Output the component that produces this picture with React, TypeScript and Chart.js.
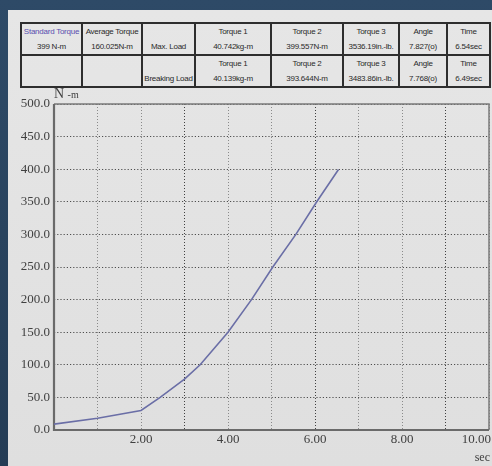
import React, { useEffect, useRef } from "react";
import { Chart, registerables } from "chart.js";

Chart.register(...registerables);

// ---- data ----
const timeSec = [0, 1, 2, 2.44, 3, 3.36, 4, 4.54, 5.03, 5.56, 6.04, 6.54];
const torqueNm = [9, 18, 30, 50, 78, 100, 150, 200, 250, 300, 350, 399.6];
const xTickLabels = ["2.00", "4.00", "6.00", "8.00", "10.00"];
const xTickValues = [2, 4, 6, 8, 10];
const yUnitMain = "N";
const yUnitSub = "-m";
const xUnit = "sec";

const row1Top = ["Standard Torque", "Average Torque", "", "Torque 1", "Torque 2", "Torque 3", "Angle", "Time"];
const row1Bottom = ["399 N-m", "160.025N-m", "Max. Load", "40.742kg-m", "399.557N-m", "3536.19in.-lb.", "7.827(o)", "6.54sec"];
const row2Top = ["", "", "", "Torque 1", "Torque 2", "Torque 3", "Angle", "Time"];
const row2Bottom = ["", "", "Breaking Load", "40.139kg-m", "393.644N-m", "3483.86in.-lb.", "7.768(o)", "6.49sec"];

// ---- layout ----
const colEdges = [21, 82, 142, 195, 271, 343, 399, 447, 490];
const rowEdges = [23, 55, 87];

function Table() {
  const lines: React.ReactNode[] = [];
  const left = colEdges[0];
  const right = colEdges[colEdges.length - 1];
  const top = rowEdges[0];
  const bottom = rowEdges[rowEdges.length - 1];
  rowEdges.forEach((y, i) =>
    lines.push(
      <div key={"h" + i} style={{ position: "absolute", left: left - 1, top: y - 1, width: right - left + 2, height: 2, background: "#2e2e2e" }} />
    )
  );
  colEdges.forEach((x, i) =>
    lines.push(
      <div key={"v" + i} style={{ position: "absolute", left: x - 1, top: top - 1, width: 2, height: bottom - top + 2, background: "#2e2e2e" }} />
    )
  );
  const texts: React.ReactNode[] = [];
  const rows = [
    [row1Top, row1Bottom],
    [row2Top, row2Bottom],
  ];
  rows.forEach((pair, r) => {
    pair.forEach((arr, l) => {
      arr.forEach((t, c) => {
        if (!t) return;
        const cx0 = colEdges[c];
        const cx1 = colEdges[c + 1];
        const cy = rowEdges[r] + (l === 0 ? 9 : 24);
        texts.push(
          <div
            key={`t${r}${l}${c}`}
            style={{
              position: "absolute",
              left: cx0,
              width: cx1 - cx0,
              top: cy - 6,
              height: 12,
              lineHeight: "12px",
              textAlign: "center",
              fontFamily: '"Liberation Sans", Arial, sans-serif',
              fontSize: 8,
              letterSpacing: -0.25,
              whiteSpace: "nowrap",
              color: r === 0 && l === 0 && c === 0 ? "#5a4fb0" : "#2a2a2a",
            }}
          >
            {t}
          </div>
        );
      });
    });
  });
  return (
    <>
      {lines}
      {texts}
    </>
  );
}

export default function App() {
  const canvasRef = useRef<HTMLCanvasElement | null>(null);

  useEffect(() => {
    if (!canvasRef.current) return;
    const serif = '"Liberation Serif", "DejaVu Serif", serif';
    const framePlugin = {
      id: "frame",
      beforeDatasetsDraw(chart: any) {
        const { ctx, chartArea: a } = chart;
        ctx.save();
        ctx.strokeStyle = "#7a7a7a";
        ctx.lineWidth = 1.5;
        ctx.beginPath();
        ctx.moveTo(a.left, a.top);
        ctx.lineTo(a.right, a.top);
        ctx.lineTo(a.right, a.bottom);
        ctx.stroke();
        ctx.strokeStyle = "#6a6a6a";
        ctx.lineWidth = 2.2;
        ctx.beginPath();
        ctx.moveTo(a.left, a.top);
        ctx.lineTo(a.left, a.bottom);
        ctx.lineTo(a.right, a.bottom);
        ctx.stroke();
        ctx.restore();
      },
      afterDraw(chart: any) {
        const { ctx, chartArea: a } = chart;
        const xs = chart.scales.x;
        ctx.save();
        ctx.fillStyle = "#404040";
        ctx.font = `13px ${serif}`;
        ctx.textBaseline = "middle";
        xTickValues.forEach((v, i) => {
          const px = xs.getPixelForValue(v);
          if (i === xTickValues.length - 1) {
            ctx.textAlign = "right";
            ctx.fillText(xTickLabels[i], a.right + 2, 440);
          } else {
            ctx.textAlign = "center";
            ctx.fillText(xTickLabels[i], px, 440);
          }
        });
        ctx.textAlign = "left";
        ctx.textBaseline = "alphabetic";
        ctx.font = `14px ${serif}`;
        ctx.fillText(yUnitMain, a.left, 98);
        const w = ctx.measureText(yUnitMain + " ").width;
        ctx.font = `10px ${serif}`;
        ctx.fillText(yUnitSub, a.left + w, 98);
        ctx.textAlign = "right";
        ctx.textBaseline = "middle";
        ctx.font = `12px ${serif}`;
        ctx.fillText(xUnit, a.right + 1, 458);
        ctx.restore();
      },
    };

    const chart = new Chart(canvasRef.current, {
      type: "scatter",
      data: {
        datasets: [
          {
            data: timeSec.map((t, i) => ({ x: t, y: torqueNm[i] })),
            showLine: true,
            borderColor: "#6a6ea6",
            borderWidth: 1.6,
            pointRadius: 0,
            tension: 0,
          },
        ],
      },
      options: {
        animation: false,
        responsive: false,
        events: [],
        layout: { padding: { top: 104, right: 3, left: 0, bottom: 0 } },
        plugins: { legend: { display: false }, tooltip: { enabled: false } },
        scales: {
          x: {
            type: "linear",
            min: 0,
            max: 10,
            ticks: { stepSize: 1, display: false },
            grid: {
              drawTicks: false,
              lineWidth: 1,
              color: (c: any) => (c.tick && c.tick.value % 3 === 0 ? "#404040" : "#8a8a8a"),
            },
            border: { display: false, dash: [1, 2] },
            afterFit: (s: any) => {
              s.height = 36;
            },
          },
          y: {
            min: 0,
            max: 500,
            ticks: {
              stepSize: 50,
              padding: 4,
              color: "#404040",
              font: { family: serif, size: 13 },
              callback: (v: any) => Number(v).toFixed(1),
            },
            grid: { drawTicks: false, lineWidth: 1, color: "#4e4e4e" },
            border: { display: false, dash: [1.2, 2] },
            afterFit: (s: any) => {
              s.width = 54;
            },
          },
        },
      },
      plugins: [framePlugin],
    } as any);
    return () => chart.destroy();
  }, []);

  return (
    <div
      style={{
        position: "fixed",
        left: 0,
        top: 0,
        width: 492,
        height: 466,
        overflow: "hidden",
        background: "linear-gradient(180deg, #2e4a67 0%, #243c55 100%)",
      }}
    >
      <div
        style={{
          position: "absolute",
          left: 8,
          top: 10,
          width: 484,
          height: 456,
          background: "linear-gradient(180deg, #e6e6e6 0%, #dfdfdf 100%)",
        }}
      />
      <Table />
      <canvas
        ref={canvasRef}
        width={492}
        height={466}
        style={{ position: "absolute", left: 0, top: 0, width: 492, height: 466 }}
      />
    </div>
  );
}
